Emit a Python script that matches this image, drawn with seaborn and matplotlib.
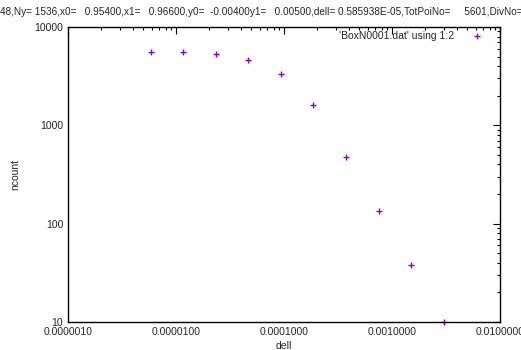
import numpy as np
import pandas as pd
import matplotlib
matplotlib.use("Agg")
import matplotlib.pyplot as plt
import seaborn as sns
from matplotlib.ticker import FixedLocator, LogLocator, NullFormatter

dell_values = [5.85938e-06, 1.171876e-05, 2.343752e-05, 4.687504e-05, 9.375008e-05,
               1.8750016e-04, 3.7500032e-04, 7.5000064e-04, 1.50000128e-03, 3.00000256e-03]
ncount_values = [5600, 5540, 5300, 4660, 3310, 1600, 473, 135, 38, 10]
x_ticks = [1e-6, 1e-5, 1e-4, 1e-3, 1e-2]
x_tick_labels = ["0.0000010", "0.0000100", "0.0001000", "0.0010000", "0.0100000"]
y_ticks = [10, 100, 1000, 10000]
y_tick_labels = ["10", "100", "1000", "10000"]
title_text = ("48,Ny= 1536,x0=   0.95400,x1=   0.96600,y0=  -0.00400y1=   0.00500,"
              "dell= 0.585938E-05,TotPoiNo=     5601,DivNo=")
legend_label = "'BoxN0001.dat' using 1:2"

sns.set_style("white")
plt.rcParams['font.family'] = ['Liberation Sans', 'DejaVu Sans']

W, H = 521, 350
fig = plt.figure(figsize=(W/100, H/100), dpi=100)
ax = fig.add_axes([68/W, 1-322/H, (500-68)/W, (322-27)/H])

df = pd.DataFrame({"dell": dell_values, "ncount": ncount_values})
sns.scatterplot(data=df, x="dell", y="ncount", marker="+", color="#9400d3",
                s=15, linewidth=1.0, ax=ax, label=legend_label, clip_on=False)

ax.set_xscale("log")
ax.set_yscale("log")
ax.set_xlim(1e-6, 1e-2)
ax.set_ylim(10, 10000)

ax.xaxis.set_major_locator(FixedLocator(x_ticks))
ax.set_xticklabels(x_tick_labels)
ax.yaxis.set_major_locator(FixedLocator(y_ticks))
ax.set_yticklabels(y_tick_labels)
ax.xaxis.set_minor_locator(LogLocator(base=10, subs=np.arange(2, 10), numticks=20))
ax.yaxis.set_minor_locator(LogLocator(base=10, subs=np.arange(2, 10), numticks=20))
ax.xaxis.set_minor_formatter(NullFormatter())
ax.yaxis.set_minor_formatter(NullFormatter())

fs = 7.5
ax.tick_params(which="both", direction="in", top=True, right=True, labelsize=fs,
               color="black", width=0.8)
ax.tick_params(which="major", length=5, pad=3.5)
ax.tick_params(which="minor", length=2.5)
for s in ax.spines.values():
    s.set_color("black")
    s.set_linewidth(1.0)

ax.set_xlabel("dell", fontsize=fs, labelpad=3)
ax.set_ylabel("ncount", fontsize=fs, labelpad=10)

leg = ax.legend(loc="upper right", frameon=False, fontsize=fs, markerfirst=False,
                handletextpad=1.45, borderaxespad=0, borderpad=0, handlelength=1.5,
                bbox_to_anchor=(485/W, 1-31/H), bbox_transform=fig.transFigure)

fig.text(0.0, 1 - 12/H, title_text, fontsize=7.2, ha="left", va="center")

fig.savefig("out.png", dpi=100)
